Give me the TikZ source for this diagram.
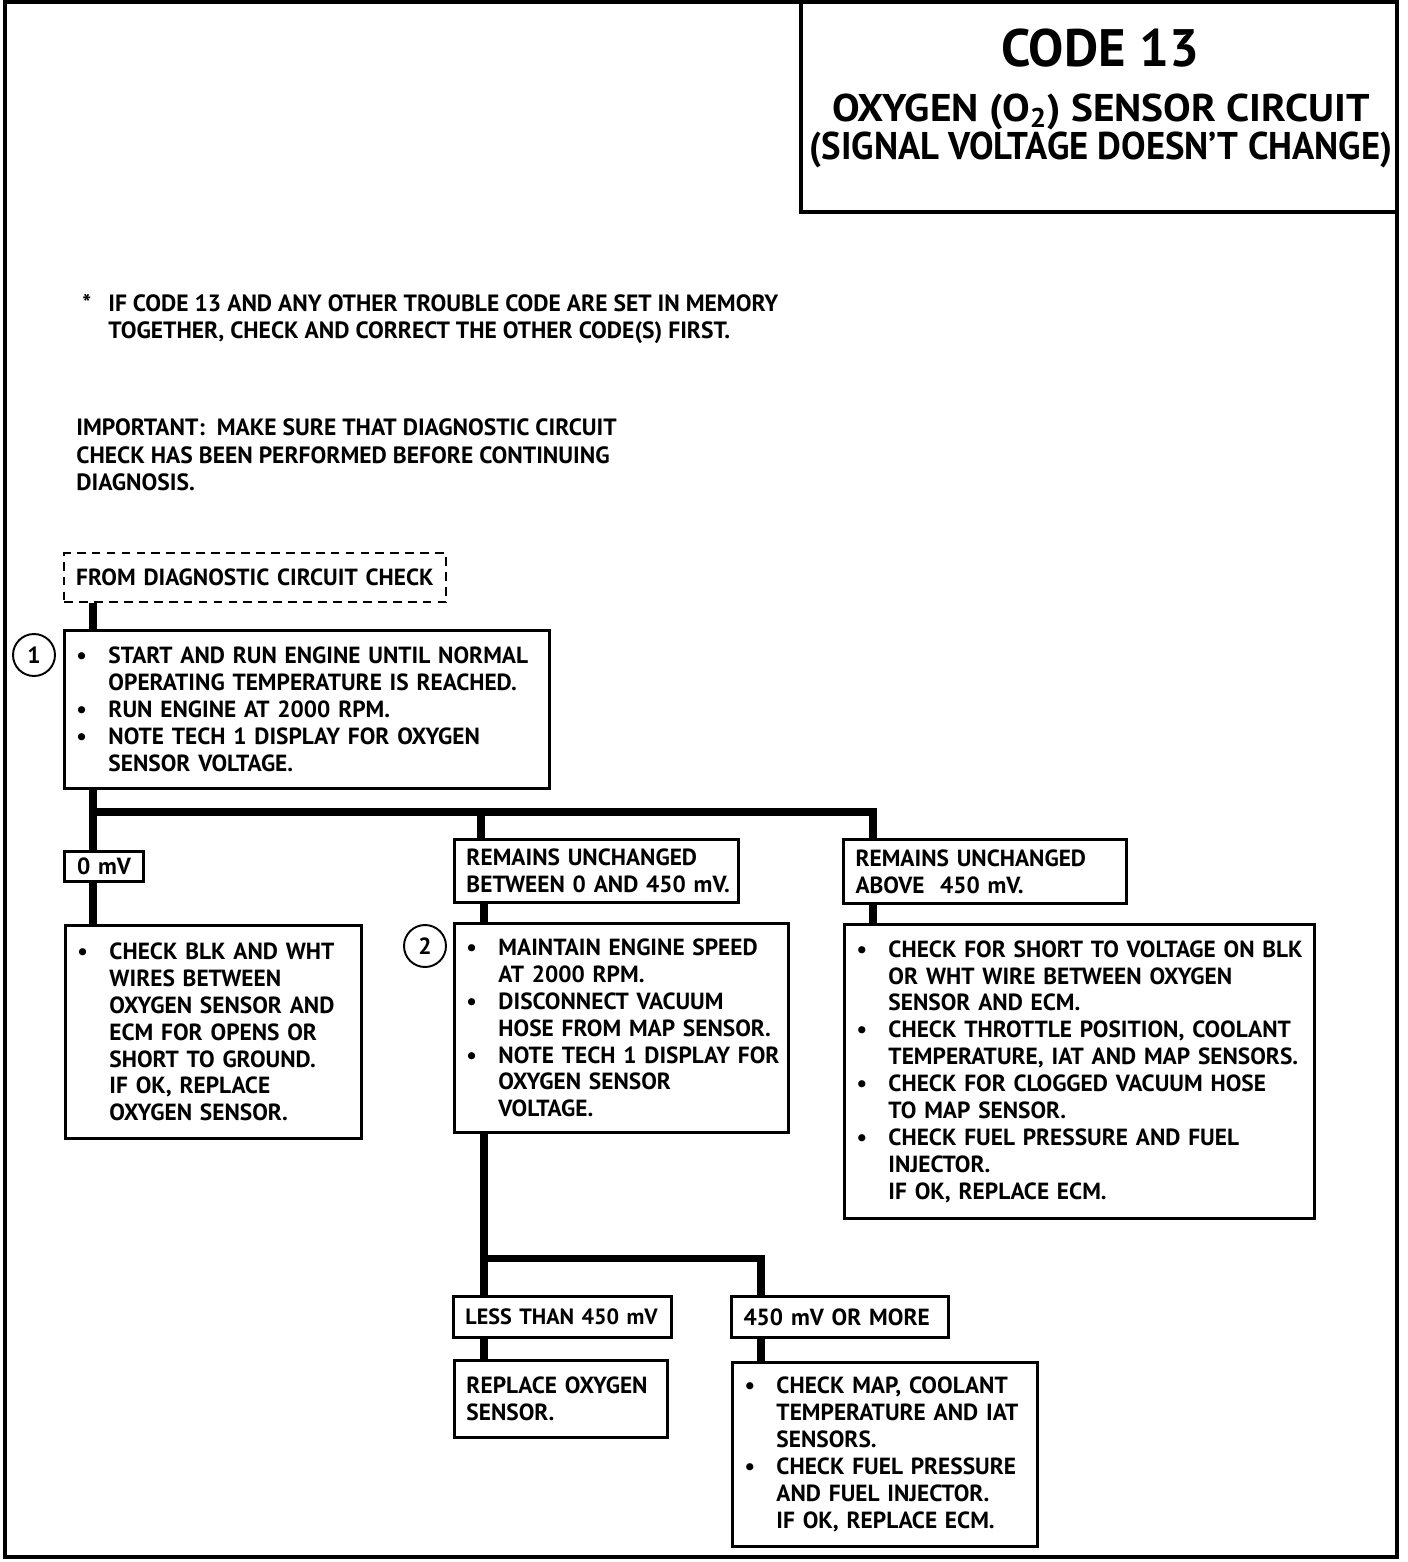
\documentclass[tikz,border=0pt]{standalone}
\usepackage{fontspec}
\setmainfont{PT Sans}
\usetikzlibrary{positioning, calc}

\newcommand{\body}{\fontsize{13.3}{15.3}\selectfont\bfseries}
\newcommand{\bul}[1]{\makebox[0.64cm][l]{\textbullet}\mbox{#1}}
\newcommand{\gap}[1]{\hspace*{0.64cm}\mbox{#1}}
\newcommand{\lbl}[1]{\mbox{#1}}

\tikzset{
    frame/.style = {line width=2.4pt},
    panel/.style = {rectangle, draw=black, line width=1.7pt, anchor=north west, inner xsep=0.24cm, inner ysep=0pt, align=left, font=\body},
    dashpanel/.style = {panel, dash pattern=on 5pt off 3.5pt, line width=1.4pt},
    num/.style = {circle, draw=black, line width=1.1pt, minimum width=0.84cm, inner sep=0pt, font=\body},
    note/.style = {anchor=west, inner sep=0pt, align=left, font=\fontsize{13.4}{15.7}\selectfont\bfseries},
    head/.style = {anchor=base, inner sep=0pt, font=\fontsize{22}{24}\selectfont\bfseries},
    wire/.style = {line width=4pt}
}

\begin{document}
\begin{tikzpicture}[x=0.02cm, y=-0.02cm]
\useasboundingbox (0,0) rectangle (1408,1562);
% frame and title block
\draw[frame] (5,2) rectangle (1397,1557);
\draw[frame] (801,2) |- (1397,212);
\node (code) at (1100,48) {\fontsize{30}{30}\selectfont\bfseries CODE 13};
\node (title) [head] at (1101,121) {\scalebox{1.07}[1]{OXYGEN (O\textsubscript{2}) SENSOR CIRCUIT}};
\node (subtitle) [head] at (1101,159) {\scalebox{0.95}[1]{(SIGNAL VOLTAGE DOESN’T CHANGE)}};

% notes
\node (memo) [note] at (82,319) {\makebox[0.52cm][l]{*}IF CODE 13 AND ANY OTHER TROUBLE CODE ARE SET IN MEMORY\\\hspace*{0.52cm}TOGETHER, CHECK AND CORRECT THE OTHER CODE(S) FIRST.};
\node (important) [note] at (76,455) {IMPORTANT:\ \ MAKE SURE THAT DIAGNOSTIC CIRCUIT\\CHECK HAS BEEN PERFORMED BEFORE CONTINUING\\DIAGNOSIS.};

% boxes
\node (from) [dashpanel, minimum width=7.64cm, minimum height=0.98cm, text width=7.16cm] at (63,552) {\lbl{FROM DIAGNOSTIC CIRCUIT CHECK}};
\node (step1) [panel, minimum width=9.70cm, minimum height=3.16cm, text width=9.22cm] at (63,629) {\bul{START AND RUN ENGINE UNTIL NORMAL}\\\gap{OPERATING TEMPERATURE IS REACHED.}\\\bul{RUN ENGINE AT 2000 RPM.}\\\bul{NOTE TECH 1 DISPLAY FOR OXYGEN}\\\gap{SENSOR VOLTAGE.}};
\node (num1) [num] at (34,655) {1};
\node (zero) [panel, align=center, minimum width=1.58cm, minimum height=0.60cm, text width=1.10cm] at (63,850) {\lbl{0 mV}};
\node (low) [panel, minimum width=5.68cm, minimum height=1.26cm, text width=5.20cm] at (453,838) {\lbl{REMAINS UNCHANGED}\\\lbl{BETWEEN 0 AND 450 mV.}};
\node (high) [panel, minimum width=5.66cm, minimum height=1.28cm, text width=5.18cm] at (842,838) {\lbl{REMAINS UNCHANGED}\\\lbl{ABOVE\ \ 450 mV.}};
\node (wires) [panel, minimum width=5.92cm, minimum height=4.26cm, text width=5.44cm] at (64,924) {\bul{CHECK BLK AND WHT}\\\gap{WIRES BETWEEN}\\\gap{OXYGEN SENSOR AND}\\\gap{ECM FOR OPENS OR}\\\gap{SHORT TO GROUND.}\\\gap{IF OK, REPLACE}\\\gap{OXYGEN SENSOR.}};
\node (step2) [panel, minimum width=6.68cm, minimum height=4.18cm, text width=6.20cm] at (453,922) {\bul{MAINTAIN ENGINE SPEED}\\\gap{AT 2000 RPM.}\\\bul{DISCONNECT VACUUM}\\\gap{HOSE FROM MAP SENSOR.}\\\bul{NOTE TECH 1 DISPLAY FOR}\\\gap{OXYGEN SENSOR}\\\gap{VOLTAGE.}};
\node (num2) [num] at (425,946) {2};
\node (short) [panel, minimum width=9.40cm, minimum height=5.88cm, text width=8.92cm] at (843,923) {\bul{CHECK FOR SHORT TO VOLTAGE ON BLK}\\\gap{OR WHT WIRE BETWEEN OXYGEN}\\\gap{SENSOR AND ECM.}\\\bul{CHECK THROTTLE POSITION, COOLANT}\\\gap{TEMPERATURE, IAT AND MAP SENSORS.}\\\bul{CHECK FOR CLOGGED VACUUM HOSE}\\\gap{TO MAP SENSOR.}\\\bul{CHECK FUEL PRESSURE AND FUEL}\\\gap{INJECTOR.}\\\gap{IF OK, REPLACE ECM.}};
\node (less) [panel, font=\fontsize{12.6}{15.3}\selectfont\bfseries, minimum width=4.36cm, minimum height=0.82cm, text width=3.88cm] at (452,1295) {\lbl{LESS THAN 450 mV}};
\node (more) [panel, minimum width=4.34cm, minimum height=0.82cm, text width=3.86cm] at (730,1295) {\lbl{450 mV OR MORE}};
\node (replace) [panel, minimum width=4.26cm, minimum height=1.54cm, text width=3.78cm] at (453,1359) {\lbl{REPLACE OXYGEN}\\\lbl{SENSOR.}};
\node (map) [panel, minimum width=6.10cm, minimum height=3.68cm, text width=5.62cm] at (731,1361) {\bul{CHECK MAP, COOLANT}\\\gap{TEMPERATURE AND IAT}\\\gap{SENSORS.}\\\bul{CHECK FUEL PRESSURE}\\\gap{AND FUEL INJECTOR.}\\\gap{IF OK, REPLACE ECM.}};

% connectors
\coordinate (split) at (93,812);
\coordinate (brA) at (481,812);
\coordinate (brB) at (873,812);
\coordinate (split2) at (484,1258);
\coordinate (brC) at (761,1258);

\draw[wire] (from.south -| split) -- (step1.north -| split);
\draw[wire] (step1.south -| split) -- (zero.north -| split);
\draw[wire] (split) -- (brB) -- (brB |- high.north);
\draw[wire] (brA) -- (brA |- low.north);
\draw[wire] (zero.south -| split) -- (wires.north -| split);
\draw[wire] (low.south -| split2) -- (step2.north -| split2);
\draw[wire] (high.south -| brB) -- (short.north -| brB);
\draw[wire] (step2.south -| split2) -- (less.north -| split2);
\draw[wire] (split2) -- (brC) -- (brC |- more.north);
\draw[wire] (less.south -| split2) -- (replace.north -| split2);
\draw[wire] (more.south -| brC) -- (map.north -| brC);
\end{tikzpicture}
\end{document}
